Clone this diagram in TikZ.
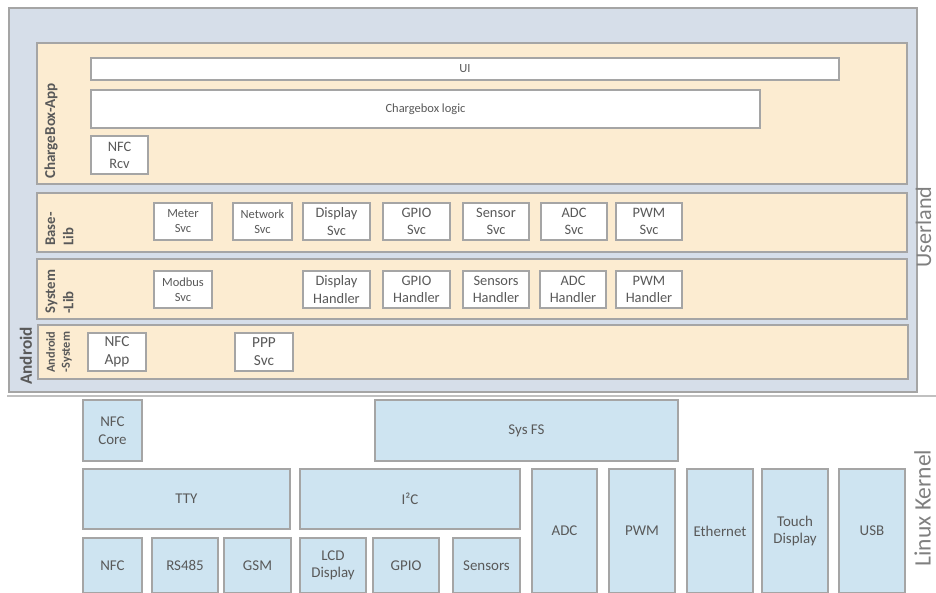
\documentclass[tikz,border=0pt]{standalone}
\usepackage{fontspec}
\setmainfont{Carlito}
\usepackage{tikz}
\usepackage{xcolor}
\definecolor{txtgray}{HTML}{595959}
\definecolor{lblgray}{HTML}{7F7F7F}
\definecolor{boxgray}{HTML}{A5A5A5}
\definecolor{androidbg}{HTML}{D6DEE9}
\definecolor{beige}{HTML}{FCECD1}
\definecolor{kernblue}{HTML}{CEE4F1}
\tikzstyle{outer} = [rectangle, draw=boxgray, line width=1.1pt, fill=androidbg, inner sep=0pt]
\tikzstyle{layer} = [rectangle, draw=boxgray, line width=1.1pt, fill=beige, inner sep=0pt]
\tikzstyle{svc} = [rectangle, draw=boxgray, line width=1.1pt, fill=white, text=txtgray, align=center, inner sep=0pt, font=\fontsize{8.2}{9.8}\selectfont]
\tikzstyle{svcsmall} = [svc, font=\fontsize{7.1}{8.5}\selectfont]
\tikzstyle{kern} = [rectangle, draw=boxgray, line width=1.1pt, fill=kernblue, text=txtgray, align=center, inner sep=0pt, font=\fontsize{8.5}{10}\selectfont]
\tikzstyle{sidelbl} = [rotate=90, text=txtgray, align=left, inner sep=0pt, font=\bfseries\fontsize{8.4}{10.4}\selectfont]
\tikzstyle{arealbl} = [rotate=90, text=lblgray, inner sep=0pt, font=\fontsize{12.6}{15}\selectfont]

\begin{document}
\begin{tikzpicture}[x=0.02cm, y=-0.02cm]
\useasboundingbox (0,0) rectangle (936,592);
\clip (0,0) rectangle (936,592);

% userland
\node (android) [outer, minimum width=18.16cm, minimum height=7.68cm] at (463,200) {};
\node (cbapp) [layer, minimum width=17.4cm, minimum height=2.82cm] at (472,113.5) {};
\node (baselib) [layer, minimum width=17.4cm, minimum height=1.18cm] at (472,222.5) {};
\node (syslib) [layer, minimum width=17.4cm, minimum height=1.2cm] at (472,289) {};
\node (andsys) [layer, minimum width=17.4cm, minimum height=1.08cm] at (473,352) {};

\node (lblandroid) [sidelbl, font=\bfseries\fontsize{9.8}{11}\selectfont] at (26,356) {Android};
\node (lblapp) [sidelbl, font=\bfseries\fontsize{8.6}{10}\selectfont] at (51,131) {ChargeBox-App};
\node (lblbase) [sidelbl, anchor=west] at (59.5,246) {Base-\\Lib};
\node (lblsys) [sidelbl, anchor=west] at (59.5,314) {System\\-Lib};
\node (lblandsys) [sidelbl, align=center, font=\bfseries\fontsize{7}{8.6}\selectfont] at (59,352) {Android\\-System};

\node (ui) [svcsmall, minimum width=14.96cm, minimum height=0.44cm] at (465,69) {UI};
\node (cblogic) [svcsmall, minimum width=13.38cm, minimum height=0.76cm] at (425.5,109) {Chargebox logic};
\node (nfcrcv) [svc, minimum width=1.14cm, minimum height=0.76cm] at (119.5,155) {NFC\\Rcv};

\node (metersvc) [svcsmall, minimum width=1.16cm, minimum height=0.74cm] at (183,221.5) {Meter\\Svc};
\node (networksvc) [svcsmall, minimum width=1.18cm, minimum height=0.74cm] at (262.5,221.5) {Network\\Svc};
\node (displaysvc) [svc, minimum width=1.34cm, minimum height=0.74cm] at (336.5,221.5) {Display\\Svc};
\node (gpiosvc) [svc, minimum width=1.34cm, minimum height=0.74cm] at (416.5,221.5) {GPIO\\Svc};
\node (sensorsvc) [svc, minimum width=1.32cm, minimum height=0.74cm] at (496,221.5) {Sensor\\Svc};
\node (adcsvc) [svc, minimum width=1.32cm, minimum height=0.74cm] at (574,221.5) {ADC\\Svc};
\node (pwmsvc) [svc, minimum width=1.32cm, minimum height=0.74cm] at (649,221.5) {PWM\\Svc};

\node (modbussvc) [svcsmall, minimum width=1.16cm, minimum height=0.74cm] at (183,289.5) {Modbus\\Svc};
\node (displayhdl) [svc, minimum width=1.34cm, minimum height=0.74cm] at (336.5,289.5) {Display\\Handler};
\node (gpiohdl) [svc, minimum width=1.34cm, minimum height=0.74cm] at (416.5,289.5) {GPIO\\Handler};
\node (sensorshdl) [svc, minimum width=1.32cm, minimum height=0.74cm] at (496,289.5) {Sensors\\Handler};
\node (adchdl) [svc, minimum width=1.32cm, minimum height=0.74cm] at (573,289.5) {ADC\\Handler};
\node (pwmhdl) [svc, minimum width=1.32cm, minimum height=0.74cm] at (649,289.5) {PWM\\Handler};

\node (nfcapp) [svc, font=\fontsize{8.7}{10.2}\selectfont, minimum width=1.16cm, minimum height=0.76cm] at (117,352) {NFC\\App};
\node (pppsvc) [svc, font=\fontsize{8.7}{10.2}\selectfont, minimum width=1.16cm, minimum height=0.76cm] at (264,352) {PPP\\Svc};

\node (lbluser) [arealbl] at (923.5,227) {Userland};

% separator
\coordinate (sepl) at (7,396);
\coordinate (sepr) at (936,396);
\draw [boxgray!70, line width=0.8pt] (sepl) -- (sepr);

% kernel
\node (nfccore) [kern, minimum width=1.18cm, minimum height=1.22cm] at (112.5,430.5) {NFC\\Core};
\node (sysfs) [kern, minimum width=6.06cm, minimum height=1.22cm] at (526.5,430.5) {Sys FS};
\node (tty) [kern, minimum width=4.14cm, minimum height=1.2cm] at (186.5,499) {TTY};
\node (itwoc) [kern, minimum width=4.4cm, minimum height=1.2cm] at (410,499) {I²C};

\node (nfc) [kern, minimum width=1.18cm, minimum height=1.1cm] at (112.5,565.5) {NFC};
\node (rs485) [kern, minimum width=1.32cm, minimum height=1.1cm] at (185,565.5) {RS485};
\node (gsm) [kern, minimum width=1.34cm, minimum height=1.1cm] at (257.5,565.5) {GSM};
\node (lcd) [kern, minimum width=1.32cm, minimum height=1.1cm] at (333,565.5) {LCD\\Display};
\node (gpio) [kern, minimum width=1.32cm, minimum height=1.1cm] at (406,565.5) {GPIO};
\node (sensors) [kern, minimum width=1.34cm, minimum height=1.1cm] at (486.5,565.5) {Sensors};

\node (adc) [kern, minimum width=1.3cm, minimum height=2.48cm] at (564.5,531) {ADC};
\node (pwm) [kern, minimum width=1.32cm, minimum height=2.48cm] at (642,531) {PWM};
\node (ethernet) [kern, minimum width=1.32cm, minimum height=2.48cm] at (720,531) {Ethernet};
\node (touch) [kern, minimum width=1.32cm, minimum height=2.48cm] at (795,531) {Touch\\Display};
\node (usb) [kern, minimum width=1.32cm, minimum height=2.48cm] at (872,531) {USB};

\node (lblkernel) [arealbl, font=\fontsize{13.4}{16}\selectfont] at (922.5,508) {Linux Kernel};
\end{tikzpicture}
\end{document}
